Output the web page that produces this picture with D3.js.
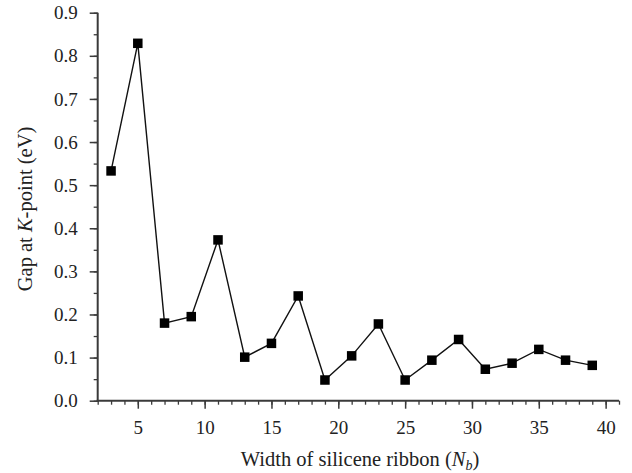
<!DOCTYPE html>
<html>
<head>
<meta charset="utf-8">
<script src="https://cdn.jsdelivr.net/npm/d3@7"></script>
<style>
  html, body { margin: 0; padding: 0; background: #fff; }
  svg { display: block; font-family: "Liberation Serif", "DejaVu Serif", serif; }
</style>
</head>
<body>
<svg id="chart" width="632" height="473"></svg>
<script>
// Ribbon widths (number of dimer lines) and band gap at the K point
const widths = [3, 5, 7, 9, 11, 13, 15, 17, 19, 21, 23, 25, 27, 29, 31, 33, 35, 37, 39];
const gaps = [0.533, 0.829, 0.180, 0.195, 0.373, 0.101, 0.133, 0.243, 0.048, 0.104,
              0.178, 0.048, 0.094, 0.142, 0.073, 0.087, 0.119, 0.094, 0.082];
const xTicks = [5, 10, 15, 20, 25, 30, 35, 40];
const yTicks = [0.0, 0.1, 0.2, 0.3, 0.4, 0.5, 0.6, 0.7, 0.8, 0.9];

(function () {
  const svg = d3.select("#chart");
  const mLeft = 97.7, mRight = 619, mTop = 12.7, mBottom = 400.7;
  const axisColor = "#3a3a3a";
  const tickFont = "19px";
  const titleFont = "20.5px";

  const x = d3.scaleLinear().domain([2, 41]).range([mLeft, mRight]);
  const y = d3.scaleLinear().domain([0, 0.9]).range([mBottom, mTop]);

  // X axis: minor ticks every unit, major every 5
  const xMinor = d3.range(2, 42, 1);
  svg.append("g").attr("transform", `translate(0,${mBottom})`)
    .call(d3.axisBottom(x).tickValues(xMinor).tickSize(4).tickFormat(""))
    .call(g => g.select(".domain").remove())
    .call(g => g.selectAll("line").attr("stroke", axisColor).attr("stroke-width", 1.3));
  svg.append("g").attr("transform", `translate(0,${mBottom})`)
    .call(d3.axisBottom(x).tickValues(xTicks).tickSize(8).tickPadding(12).tickFormat(d3.format("d")))
    .call(g => g.select(".domain").remove())
    .call(g => g.selectAll("line").attr("stroke", axisColor).attr("stroke-width", 1.5))
    .call(g => g.selectAll("text").attr("fill", "#222").style("font-size", tickFont)
      .style("font-family", "'Liberation Serif', serif"));

  // Y axis: minor ticks every 0.05, major every 0.1
  const yMinor = d3.range(0, 0.901, 0.05);
  svg.append("g").attr("transform", `translate(${mLeft},0)`)
    .call(d3.axisLeft(y).tickValues(yMinor).tickSize(4).tickFormat(""))
    .call(g => g.select(".domain").remove())
    .call(g => g.selectAll("line").attr("stroke", axisColor).attr("stroke-width", 1.3));
  svg.append("g").attr("transform", `translate(${mLeft},0)`)
    .call(d3.axisLeft(y).tickValues(yTicks).tickSize(8).tickPadding(12).tickFormat(d3.format(".1f")))
    .call(g => g.select(".domain").remove())
    .call(g => g.selectAll("line").attr("stroke", axisColor).attr("stroke-width", 1.5))
    .call(g => g.selectAll("text").attr("fill", "#222").style("font-size", tickFont)
      .style("font-family", "'Liberation Serif', serif"));

  // Axis lines
  svg.append("line").attr("x1", mLeft).attr("x2", mLeft).attr("y1", mTop).attr("y2", mBottom + 1)
    .attr("stroke", axisColor).attr("stroke-width", 2);
  svg.append("line").attr("x1", mLeft - 1).attr("x2", mRight).attr("y1", mBottom).attr("y2", mBottom)
    .attr("stroke", axisColor).attr("stroke-width", 2);

  const pts = widths.map((w, i) => [w, gaps[i]]);

  // Connecting line
  svg.append("path").datum(pts)
    .attr("fill", "none").attr("stroke", "#111").attr("stroke-width", 1.4)
    .attr("d", d3.line().x(d => x(d[0])).y(d => y(d[1])));

  // Square markers
  const s = 9.5;
  svg.append("g").selectAll("rect").data(pts).join("rect")
    .attr("x", d => x(d[0]) - s / 2).attr("y", d => y(d[1]) - s / 2)
    .attr("width", s).attr("height", s).attr("fill", "#000");

  // Axis titles
  const xt = svg.append("text").attr("x", 360).attr("y", 466)
    .attr("text-anchor", "middle").style("font-size", titleFont).attr("fill", "#222");
  xt.append("tspan").text("Width of silicene ribbon (");
  xt.append("tspan").attr("font-style", "italic").text("N");
  xt.append("tspan").attr("font-style", "italic").attr("dy", 4).style("font-size", "14px").text("b");
  xt.append("tspan").attr("dy", -4).text(")");

  const yt = svg.append("text").attr("transform", "translate(32,209) rotate(-90)")
    .attr("text-anchor", "middle").style("font-size", titleFont).attr("fill", "#222");
  yt.append("tspan").text("Gap at ");
  yt.append("tspan").attr("font-style", "italic").text("K");
  yt.append("tspan").text("-point (eV)");
})();
</script>
</body>
</html>
